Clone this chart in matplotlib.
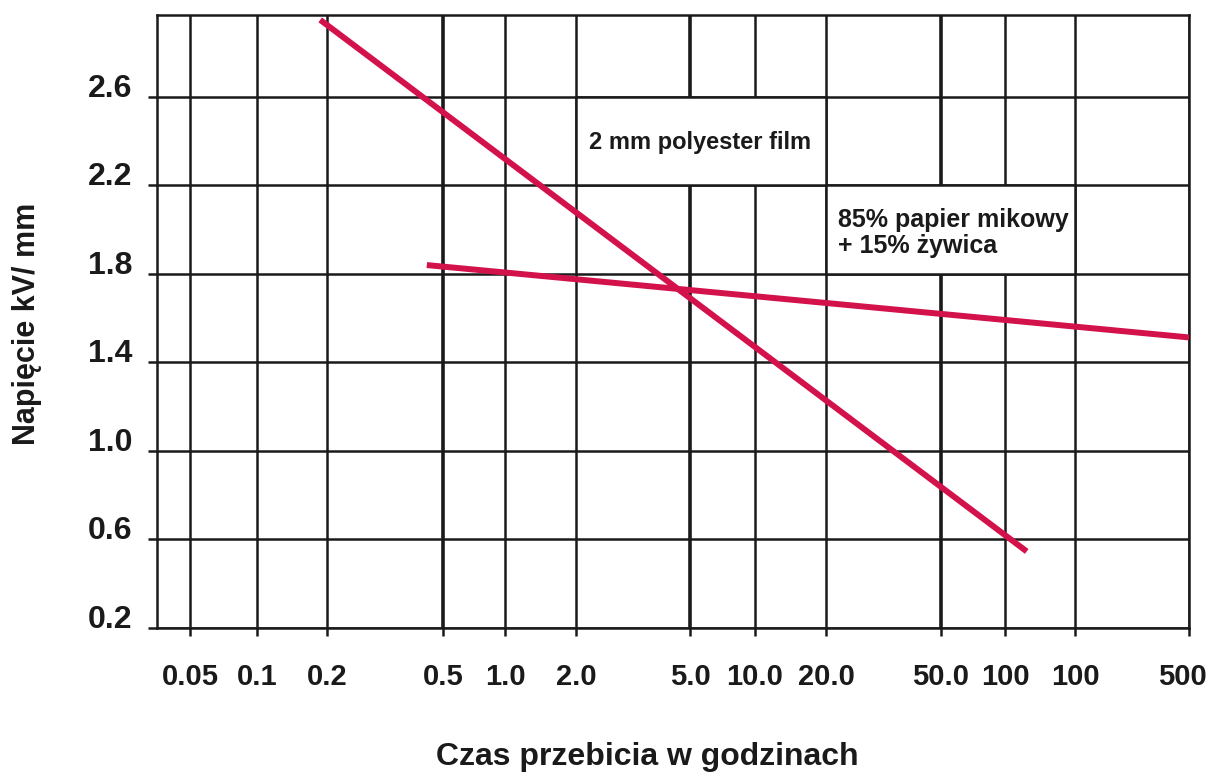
import numpy as np
import matplotlib
matplotlib.use("Agg")
import matplotlib.pyplot as plt
from matplotlib.patches import Rectangle
from matplotlib.transforms import ScaledTranslation

# czas przebicia [h] - wartosci podzialki i podpisy (tak jak na oryginale, z "100" dwa razy)
tick_hours = [0.05, 0.1, 0.2, 0.5, 1, 2, 5, 10, 20, 50, 100, 200, 500]
tick_labels = ["0.05", "0.1", "0.2", "0.5", "1.0", "2.0", "5.0", "10.0", "20.0",
               "50.0", "100", "100", "500"]
y_ticks = [0.2, 0.6, 1.0, 1.4, 1.8, 2.2, 2.6]

# krzywe (czas [h], napiecie [kV/mm])
poly_hours = [0.187, 124]
poly_kv = [2.948, 0.546]
mica_hours = [0.44, 500]
mica_kv = [1.84, 1.513]

# podzialka osi x na oryginale nie jest rowna - polozenie kresek (layout)
x_min = 0.037
anchor_pos = [157, 190, 257, 327, 443, 505, 576, 690, 755, 826, 941, 1005, 1075, 1189]
anchor_log = np.log10([x_min] + tick_hours)


def fwd(x):
    x = np.asarray(x, dtype=float)
    return np.interp(np.log10(np.maximum(x, 1e-9)), anchor_log, anchor_pos)


def inv(p):
    p = np.asarray(p, dtype=float)
    return 10 ** np.interp(p, anchor_pos, anchor_log)


font = ["Liberation Sans", "DejaVu Sans"]
red = "#d3124c"
ink = "#1a1a1a"
lw = 1.8

fig = plt.figure(figsize=(12.13, 7.76), dpi=100)
ax = fig.add_axes([157 / 1213, 1 - 628 / 776, (1189 - 157) / 1213, (628 - 15) / 776])

ax.set_xscale("function", functions=(fwd, inv))
ax.set_xlim(x_min, 500)
ax.set_ylim(0.2, 2.97)

ax.set_xticks(tick_hours)
ax.set_xticklabels(tick_labels, family=font, fontsize=21, fontweight="bold", color=ink)
ax.xaxis.set_minor_locator(matplotlib.ticker.NullLocator())
ax.set_yticks(y_ticks)
ax.set_yticklabels([f"{v:.1f}" for v in y_ticks], family=font, fontsize=23,
                   fontweight="bold", color=ink)
for lab in ax.get_yticklabels():
    lab.set_va("baseline")

ax.tick_params(axis="x", length=6, width=lw, pad=19, color=ink)
ax.tick_params(axis="y", length=6.5, width=lw, pad=11, color=ink)

# ostatni podpis lekko w lewo, zeby sie zmiescil
last = ax.get_xticklabels()[-1]
last.set_transform(last.get_transform() + ScaledTranslation(-5 / 72, 0, fig.dpi_scale_trans))

ax.set_axisbelow(True)
ax.grid(True, color=ink, lw=lw)
for h, gl in zip(tick_hours, ax.get_xgridlines()):
    if h in (0.5, 5, 50):
        gl.set_linewidth(2.6)
for sp in ax.spines.values():
    sp.set_linewidth(lw)
    sp.set_color(ink)

# biale pola z opisami
ax.add_patch(Rectangle((2, 2.2), 20 - 2, 0.4, fc="white", ec=ink, lw=lw, zorder=1))
ax.add_patch(Rectangle((20, 1.8), 200 - 20, 0.4, fc="white", ec=ink, lw=lw, zorder=1))

ax.plot(poly_hours, poly_kv, color=red, lw=4.3, solid_capstyle="butt", zorder=3)
ax.plot(mica_hours, mica_kv, color=red, lw=4.3, solid_capstyle="butt", zorder=3)

ax.text(700 / 1213, 1 - 143 / 776, "2 mm polyester film", transform=fig.transFigure,
        ha="center", va="center", family=font, fontsize=17, fontweight="bold",
        color=ink, zorder=4)
ax.text(838 / 1213, 1 - 233 / 776, "85% papier mikowy\n+ 15% żywica", transform=fig.transFigure,
        ha="left", va="center", family=font, fontsize=18, fontweight="bold",
        color=ink, linespacing=1.15, zorder=4)

fig.text(647 / 1213, 1 - 757 / 776, "Czas przebicia w godzinach", ha="center", va="center",
         family=font, fontsize=23, fontweight="bold", color=ink)
fig.text(27 / 1213, 1 - 324 / 776, "Napięcie kV/ mm", ha="center", va="center",
         rotation=90, family=font, fontsize=22, fontweight="bold", color=ink)

fig.savefig("out.png", dpi=100)
